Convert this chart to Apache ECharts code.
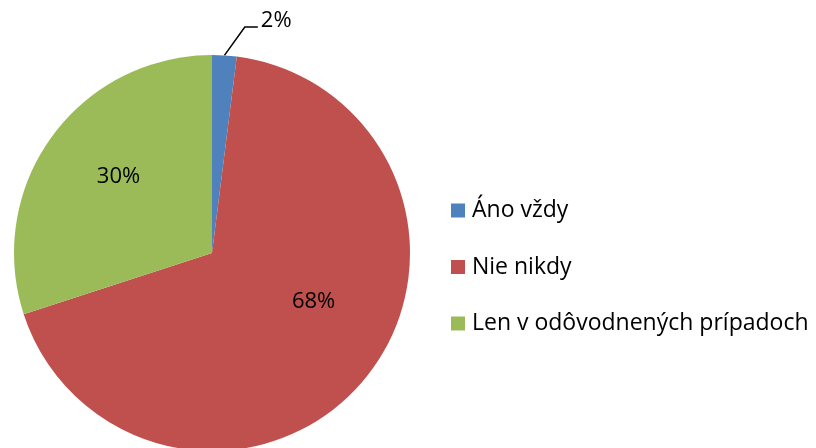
<!DOCTYPE html>
<html>
<head>
<meta charset="utf-8">
<script src="https://cdn.jsdelivr.net/npm/echarts@6/dist/echarts.min.js"></script>
<style>
html, body { margin: 0; padding: 0; background: #fff; }
#pieAnswer { width: 816px; height: 448px; }
</style>
</head>
<body>
<div id="pieAnswer"></div>
<script>
// kategórie a hodnoty (%)
var categories = ['Áno vždy', 'Nie nikdy', 'Len v odôvodnených prípadoch'];
var values = [2, 68, 30];
var colors = ['#4F81BD', '#C0504D', '#9BBB59'];

var fontName = 'Open Sans';

// posun popisov vo vnútri výsečí (podobne ako v Exceli)
var labelOffsets = [[0, 0], [23, -16], [-11, -16]];

var pieData = [];
for (var i = 0; i < categories.length; i++) {
	var item = {
		name: categories[i],
		value: values[i]
	};
	if (i === 0) {
		item.label = { position: 'outside' };
		item.labelLine = { show: true, length: 22, length2: 12 };
	} else {
		item.label = { position: 'inside', offset: labelOffsets[i] };
		item.labelLine = { show: false };
	}
	pieData.push(item);
}

var pieAnswer = echarts.init(document.getElementById('pieAnswer'));
pieAnswer.setOption({
	animation: false,
	color: colors,
	legend: {
		orient: 'vertical',
		left: 451,
		top: 199,
		padding: 0,
		itemWidth: 14,
		itemHeight: 14,
		itemGap: 33.5,
		icon: 'rect',
		selectedMode: false,
		data: categories,
		textStyle: {
			fontFamily: fontName,
			fontSize: 23,
			color: '#000',
			lineHeight: 22,
			padding: [0, 0, 0, 2]
		}
	},
	series: [{
		type: 'pie',
		center: [212, 253],
		radius: 198,
		startAngle: 90,
		clockwise: true,
		avoidLabelOverlap: false,
		itemStyle: {
			borderWidth: 0
		},
		label: {
			show: true,
			formatter: '{c}%',
			fontFamily: fontName,
			fontSize: 22,
			color: '#000'
		},
		labelLine: {
			lineStyle: { color: '#000', width: 1.5 }
		},
		labelLayout: function (params) {
			// malú výseč posunúť doprava hore ako v origináli, čiara šikmo a potom vodorovne
			if (params.dataIndex !== 0 || !params.labelLinePoints) {
				return {};
			}
			var dx = 18, dy = -13;
			var r = params.labelRect;
			var p0 = params.labelLinePoints[0];
			var endX = r.x + dx - 3;
			var endY = r.y + dy + r.height * 0.8;
			return {
				dx: dx,
				dy: dy,
				labelLinePoints: [p0, [endX - 13, endY], [endX, endY]]
			};
		},
		data: pieData
	}]
});
</script>
</body>
</html>
